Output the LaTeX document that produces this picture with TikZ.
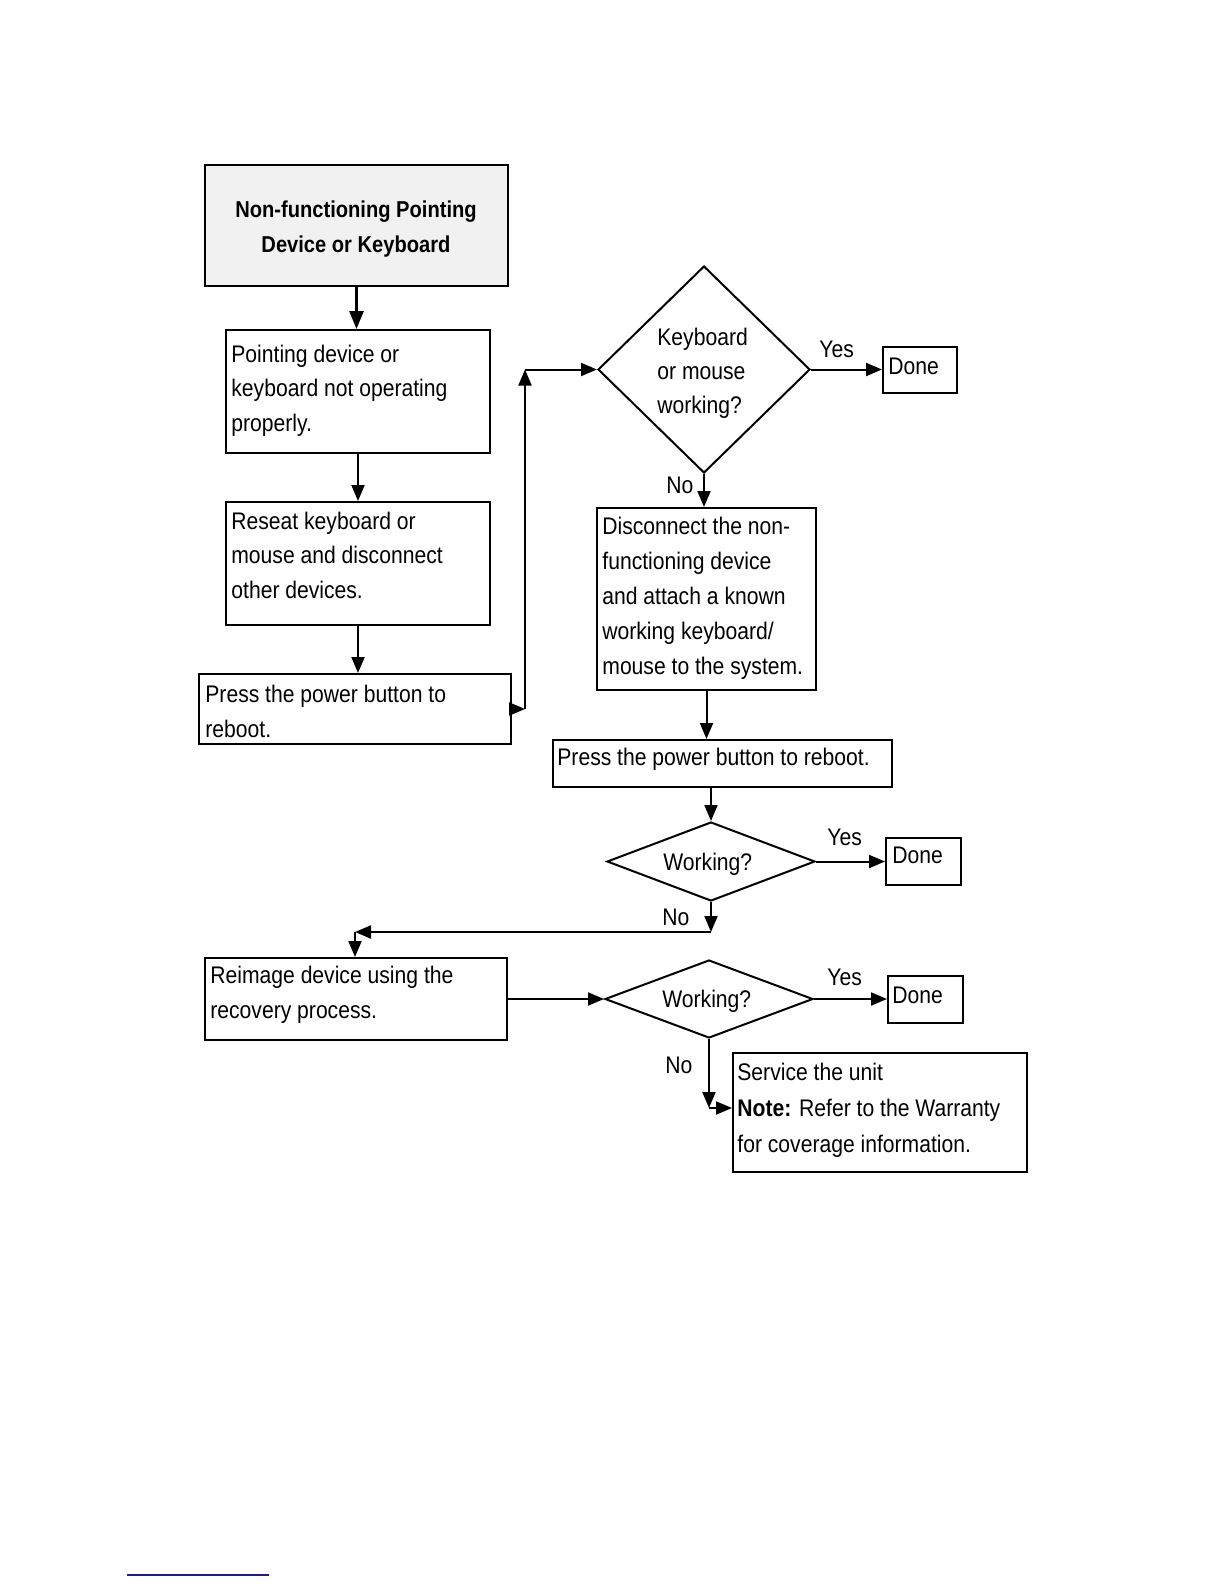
\documentclass[tikz,border=0pt]{standalone}
\usepackage{fontspec}
\setmainfont{Liberation Sans}[FakeStretch=0.88]
\newfontfamily\titlefont{Liberation Sans}[FakeStretch=0.875]
\usetikzlibrary{shapes.geometric,arrows.meta,calc}
\definecolor{titlefill}{HTML}{F1F1F1}
\definecolor{footblue}{HTML}{1C1C8C}
\begin{document}
\begin{tikzpicture}[x=0.5pt,y=-0.5pt,
  box/.style={draw=black,line width=1pt,rectangle,inner sep=0pt,fill=white},
  dia/.style={draw=black,line width=1pt,diamond,inner sep=0pt,fill=white},
  txt/.style={anchor=base west,align=left,inner sep=0pt,font=\fontsize{12}{17.25}\selectfont},
  lbl/.style={anchor=base west,inner sep=0pt,font=\fontsize{12}{14}\selectfont},
  arr/.style={line width=1pt,-{Triangle[length=8pt,width=6.5pt]}}]
\useasboundingbox (0,0) rectangle (1224,1584);

% boxes
\node[box,fill=titlefill,line width=1.2pt,minimum width=151.5pt,minimum height=60.5pt] (t) at (356.5,225.5) {};
\node[box,minimum width=132pt,minimum height=61.5pt] (b2) at (358,391.5) {};
\node[box,minimum width=132pt,minimum height=61.5pt] (b3) at (358,563.5) {};
\node[box,minimum width=156pt,minimum height=35pt] (b4) at (355,709) {};
\node[dia,minimum width=106pt,minimum height=103.5pt] (d1) at (704,369.5) {};
\node[box,minimum width=37pt,minimum height=23pt] (done1) at (920,370) {};
\node[box,minimum width=109.5pt,minimum height=91pt] (b5) at (706.5,599) {};
\node[box,minimum width=169.5pt,minimum height=23.5pt] (b6) at (722.5,763.5) {};
\node[dia,minimum width=104pt,minimum height=39.5pt] (d2) at (711,861.5) {};
\node[box,minimum width=37.5pt,minimum height=23.5pt] (done2) at (923.5,861.5) {};
\node[box,minimum width=151pt,minimum height=41pt] (b7) at (356,999) {};
\node[dia,minimum width=104pt,minimum height=39pt] (d3) at (709,999) {};
\node[box,minimum width=37.5pt,minimum height=23.5pt] (done3) at (925.5,999) {};
\node[box,minimum width=147pt,minimum height=59.5pt] (b8) at (880,1112.5) {};

% texts (base anchor = baseline of the last line)
\node[anchor=base,align=center,inner sep=0pt,font=\titlefont\bfseries\fontsize{11.5}{17.5}\selectfont] (tt) at (356,252) {Non-functioning Pointing\\Device or Keyboard};
\node[txt] (b2t) at (231,431) {Pointing device or\\keyboard not operating\\properly.};
\node[txt] (b3t) at (231,598) {Reseat keyboard or\\mouse and disconnect\\other devices.};
\node[txt] (b4t) at (205,737) {Press the power button to\\reboot.};
\node[txt,font=\fontsize{12}{17}\selectfont] (d1t) at (657,413) {Keyboard\\or mouse\\working?};
\node[lbl] (done1t) at (888,374) {Done};
\node[txt,font=\fontsize{12}{17.5}\selectfont] (b5t) at (602,674) {Disconnect the non-\\functioning device\\and attach a known\\working keyboard/\\mouse to the system.};
\node[lbl] (b6t) at (557,765) {Press the power button to reboot.};
\node[lbl] (d2t) at (663,870) {Working?};
\node[lbl] (done2t) at (892,863) {Done};
\node[txt] (b7t) at (210,1018) {Reimage device using the\\recovery process.};
\node[lbl] (d3t) at (662,1007) {Working?};
\node[lbl] (done3t) at (892,1003) {Done};
\node[txt,font=\fontsize{12}{18}\selectfont] (b8t) at (737,1152) {Service the unit\\\textbf{Note:} Refer to the Warranty\\for coverage information.};

% branch labels
\node[lbl] (y1) at (819,357) {Yes};
\node[lbl] (n1) at (666,493) {No};
\node[lbl] (y2) at (827,845) {Yes};
\node[lbl] (n2) at (662,925) {No};
\node[lbl] (y3) at (827,985) {Yes};
\node[lbl] (n3) at (665,1073) {No};

% helper points
\coordinate (L1) at (525,709);
\coordinate (L2) at (525,369.5);
\coordinate (M1) at (711,932);
\coordinate (M2) at (355,932);
\coordinate (S1) at (709,1108);

% connectors
\draw[arr,line width=1.4pt,-{Triangle[length=9pt,width=7pt]}] (t.south) -- (t.south |- b2.north);
\draw[arr] (b2.south) -- (b3.north);
\draw[arr] (b3.south) -- (b3.south |- b4.north);
\draw[arr] (b4.east) -- (L1);
\draw[arr] (L1) -- (L2);
\draw[arr] (L2) -- (d1.west);
\draw[arr] (d1.east) -- (d1.east -| done1.west);
\draw[arr] (d1.south) -- (d1.south |- b5.north);
\draw[arr] (b5.south) -- (b5.south |- b6.north);
\draw[arr] (d2.north |- b6.south) -- (d2.north);
\draw[arr] (d2.east) -- (d2.east -| done2.west);
\draw[arr] (d2.south) -- (M1);
\draw[arr] (M1) -- (M2);
\draw[arr] (M2) -- (M2 |- b7.north);
\draw[arr] (b7.east) -- (d3.west);
\draw[arr] (d3.east) -- (d3.east -| done3.west);
\draw[arr] (d3.south) -- (S1);
\draw[arr] (S1) -- (S1 -| b8.west);

% footer rule
\draw[footblue,line width=1pt] (127,1575) -- (269,1575);
\end{tikzpicture}
\end{document}
